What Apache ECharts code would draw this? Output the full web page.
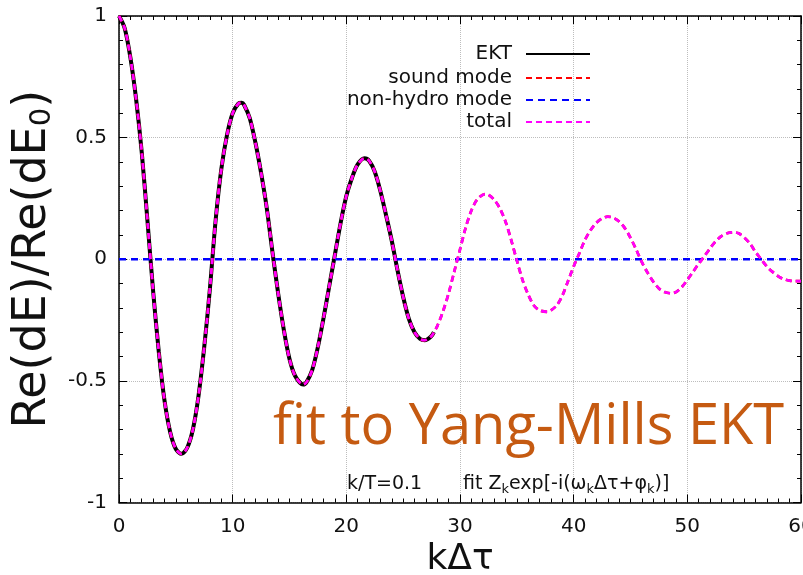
<!DOCTYPE html>
<html><head><meta charset="utf-8">
<script src="https://cdn.jsdelivr.net/npm/echarts@6/dist/echarts.min.js"></script>
<style>html,body{margin:0;padding:0;background:#fff}#c{width:803px;height:575px}</style>
</head><body><div id="c"></div>
<script>
// x positions (k Δτ)
const kdt = [
  0, 0.5, 1, 1.5, 2, 2.5, 3, 3.5, 4, 4.5,
  5, 5.5, 6, 6.5, 7, 7.5, 8, 8.5, 9, 9.5,
  10, 10.5, 10.8, 11, 11.5, 12, 12.5, 13, 13.5, 14,
  14.5, 15, 15.5, 16.2, 16.5, 17, 17.5, 18, 18.5, 19,
  19.5, 20, 20.5, 21, 21.6, 22, 22.5, 23, 23.5, 24,
  24.5, 25, 25.5, 26, 26.5, 26.9, 27.5, 27.7,
  28, 28.5, 29, 29.5, 30, 30.5, 31, 31.5, 32.2, 32.5,
  33, 33.5, 34, 34.5, 35, 35.5, 36, 36.5, 37, 37.7,
  38, 38.5, 39, 39.5, 40, 40.5, 41, 41.5, 42, 42.5,
  43, 43.5, 44, 44.5, 45, 45.5, 46, 46.5, 47, 47.5,
  48, 48.6, 49, 49.5, 50, 50.5, 51, 51.5, 52, 52.5,
  53, 53.5, 54.1, 54.5, 55, 55.5, 56, 56.5, 57, 57.5,
  58, 58.5, 59, 59.5, 60
];
// EKT (solid black), first 58 x positions
const ektVals = [
  1.0, 0.95, 0.83, 0.66, 0.44, 0.16, -0.13, -0.38, -0.58, -0.71,
  -0.78, -0.80, -0.775, -0.70, -0.56, -0.36, -0.12, 0.16, 0.37, 0.51,
  0.60, 0.64, 0.643, 0.635, 0.58, 0.48, 0.355, 0.21, 0.03, -0.14,
  -0.29, -0.41, -0.48, -0.515, -0.505, -0.455, -0.36, -0.24, -0.11, 0.02,
  0.15, 0.26, 0.335, 0.39, 0.415, 0.405, 0.36, 0.28, 0.18, 0.075,
  -0.045, -0.155, -0.245, -0.30, -0.328, -0.333, -0.315, -0.30
];
// total fit (magenta dashed)
const totalVals = [
  1.0, 0.95, 0.83, 0.66, 0.44, 0.16, -0.13, -0.38, -0.58, -0.71,
  -0.78, -0.80, -0.775, -0.70, -0.56, -0.36, -0.12, 0.16, 0.37, 0.51,
  0.60, 0.64, 0.643, 0.635, 0.58, 0.48, 0.355, 0.21, 0.03, -0.14,
  -0.29, -0.41, -0.48, -0.515, -0.505, -0.455, -0.36, -0.24, -0.11, 0.02,
  0.15, 0.26, 0.335, 0.39, 0.415, 0.405, 0.36, 0.28, 0.18, 0.075,
  -0.045, -0.155, -0.245, -0.30, -0.328, -0.333, -0.315, -0.30,
  -0.275, -0.215, -0.14, -0.05, 0.04, 0.13, 0.20, 0.245, 0.268, 0.265,
  0.245, 0.21, 0.155, 0.08, -0.005, -0.085, -0.145, -0.19, -0.21, -0.216,
  -0.21, -0.19, -0.15, -0.09, -0.03, 0.025, 0.08, 0.12, 0.15, 0.168,
  0.175, 0.17, 0.155, 0.128, 0.088, 0.04, -0.012, -0.055, -0.092, -0.12,
  -0.135, -0.14, -0.135, -0.115, -0.085, -0.052, -0.018, 0.012, 0.045, 0.074,
  0.095, 0.107, 0.111, 0.107, 0.09, 0.065, 0.03, 0.0, -0.03, -0.052,
  -0.07, -0.082, -0.088, -0.09, -0.09
];
// sound mode (red dashed) coincides with the total
const soundVals = totalVals;
// non-hydro mode (blue dashed)
const nonHydroX = [0, 60];
const nonHydroVals = [0, 0];

const seriesNames = ['EKT', 'sound mode', 'non-hydro mode', 'total'];
const xTicks = [0, 10, 20, 30, 40, 50, 60];
const yTicks = [-1, -0.5, 0, 0.5, 1];

const FONT = 'DejaVu Sans';
const pairs = (xs, ys) => ys.map((y, i) => [xs[i], y]);

const chart = echarts.init(document.getElementById('c'), null, {renderer: 'canvas'});

const axisCommonX = {
  type: 'value', min: xTicks[0], max: xTicks[xTicks.length - 1], interval: 10,
  axisLine: {onZero: false, lineStyle: {color: '#000', width: 1.5}},
  axisTick: {inside: true, length: 8, lineStyle: {color: '#000', width: 1}},
  minorTick: {show: true, splitNumber: 10, length: 4, lineStyle: {color: '#000', width: 1}}
};
const axisCommonY = {
  type: 'value', min: yTicks[0], max: yTicks[yTicks.length - 1], interval: 0.5,
  axisLine: {onZero: false, lineStyle: {color: '#000', width: 1.5}},
  axisTick: {inside: true, length: 8, lineStyle: {color: '#000', width: 1}},
  minorTick: {show: true, splitNumber: 5, length: 4, lineStyle: {color: '#000', width: 1}}
};

const rowTops = [44, 68, 90, 112];
const legends = seriesNames.map((n, i) => ({
  data: [n], right: 212, top: rowTops[i], orient: 'horizontal', align: 'right',
  itemWidth: 64, itemHeight: 14, padding: 0, selectedMode: false,
  itemStyle: {color: 'rgba(0,0,0,0)', borderWidth: 0, opacity: 0},
  textStyle: {fontFamily: FONT, fontSize: 20, color: '#111', padding: [0, 9, 0, 0]}
}));

const option = {
  animation: false,
  backgroundColor: '#fff',
  grid: {left: 119, right: 2, top: 16, bottom: 72.5, containLabel: false, outerBoundsMode: 'none'},
  legend: legends,
  xAxis: [
    Object.assign({}, axisCommonX, {
      position: 'bottom',
      splitLine: {show: true, lineStyle: {color: '#bdbdbd', type: 'dotted', width: 1}},
      axisLabel: {fontFamily: FONT, fontSize: 20, color: '#111', margin: 14, showMaxLabel: true, showMinLabel: true},
      name: 'kΔτ', nameLocation: 'middle', nameGap: 33,
      nameTextStyle: {fontFamily: FONT, fontSize: 36, color: '#111'}
    }),
    Object.assign({}, axisCommonX, {
      position: 'top', axisLabel: {show: false}, splitLine: {show: false}
    })
  ],
  yAxis: [
    Object.assign({}, axisCommonY, {
      position: 'left',
      splitLine: {show: true, lineStyle: {color: '#bdbdbd', type: 'dotted', width: 1}},
      axisLabel: {fontFamily: FONT, fontSize: 20, color: '#111', margin: 12},
      name: 'Re(dE)/Re(dE{s|0})', nameLocation: 'middle', nameGap: 60, nameRotate: 90,
      nameTextStyle: {fontFamily: FONT, fontSize: 46, color: '#111',
        rich: {s: {fontFamily: FONT, fontSize: 29, color: '#111', padding: [19, 0, 0, 0]}}}
    }),
    Object.assign({}, axisCommonY, {
      position: 'right', axisLabel: {show: false}, splitLine: {show: false}
    })
  ],
  series: [
    {name: seriesNames[0], type: 'line', data: pairs(kdt, ektVals), symbol: 'none', smooth: 0.3,
      color: '#000', lineStyle: {color: '#000', width: 4}, z: 2},
    {name: seriesNames[1], type: 'line', data: pairs(kdt, soundVals), symbol: 'none', smooth: 0.3,
      color: '#ff0000', lineStyle: {color: '#ff0000', width: 2.7, type: [6, 4]}, z: 3},
    {name: seriesNames[2], type: 'line', data: pairs(nonHydroX, nonHydroVals), symbol: 'none',
      color: '#0000ff', lineStyle: {color: '#0000ff', width: 2.5, type: [7, 5]}, z: 4},
    {name: seriesNames[3], type: 'line', data: pairs(kdt, totalVals), symbol: 'none', smooth: 0.3,
      color: '#ff00ff', lineStyle: {color: '#ff00ff', width: 2.7, type: [6, 4]}, z: 5}
  ],
  graphic: [
    {type: 'text', x: 273, y: 428, z: 100,
      style: {text: 'fit to Yang-Mills EKT', fontFamily: 'Open Sans', fontSize: 56, fill: '#C55A11',
        align: 'left', verticalAlign: 'middle'}},
    {type: 'text', x: 347, y: 484, z: 100,
      style: {text: 'k/T=0.1', fontFamily: FONT, fontSize: 19, fill: '#111', align: 'left', verticalAlign: 'middle'}},
    {type: 'text', x: 463, y: 484, z: 100,
      style: {text: 'fit Z{s|k}exp[-i(ω{s|k}Δτ+φ{s|k})]', fontFamily: FONT, fontSize: 19, fill: '#111',
        align: 'left', verticalAlign: 'middle',
        rich: {s: {fontFamily: FONT, fontSize: 13, fill: '#111', padding: [12, 0, 0, 0]}}}}
  ]
};
chart.setOption(option);
</script>
</body></html>
